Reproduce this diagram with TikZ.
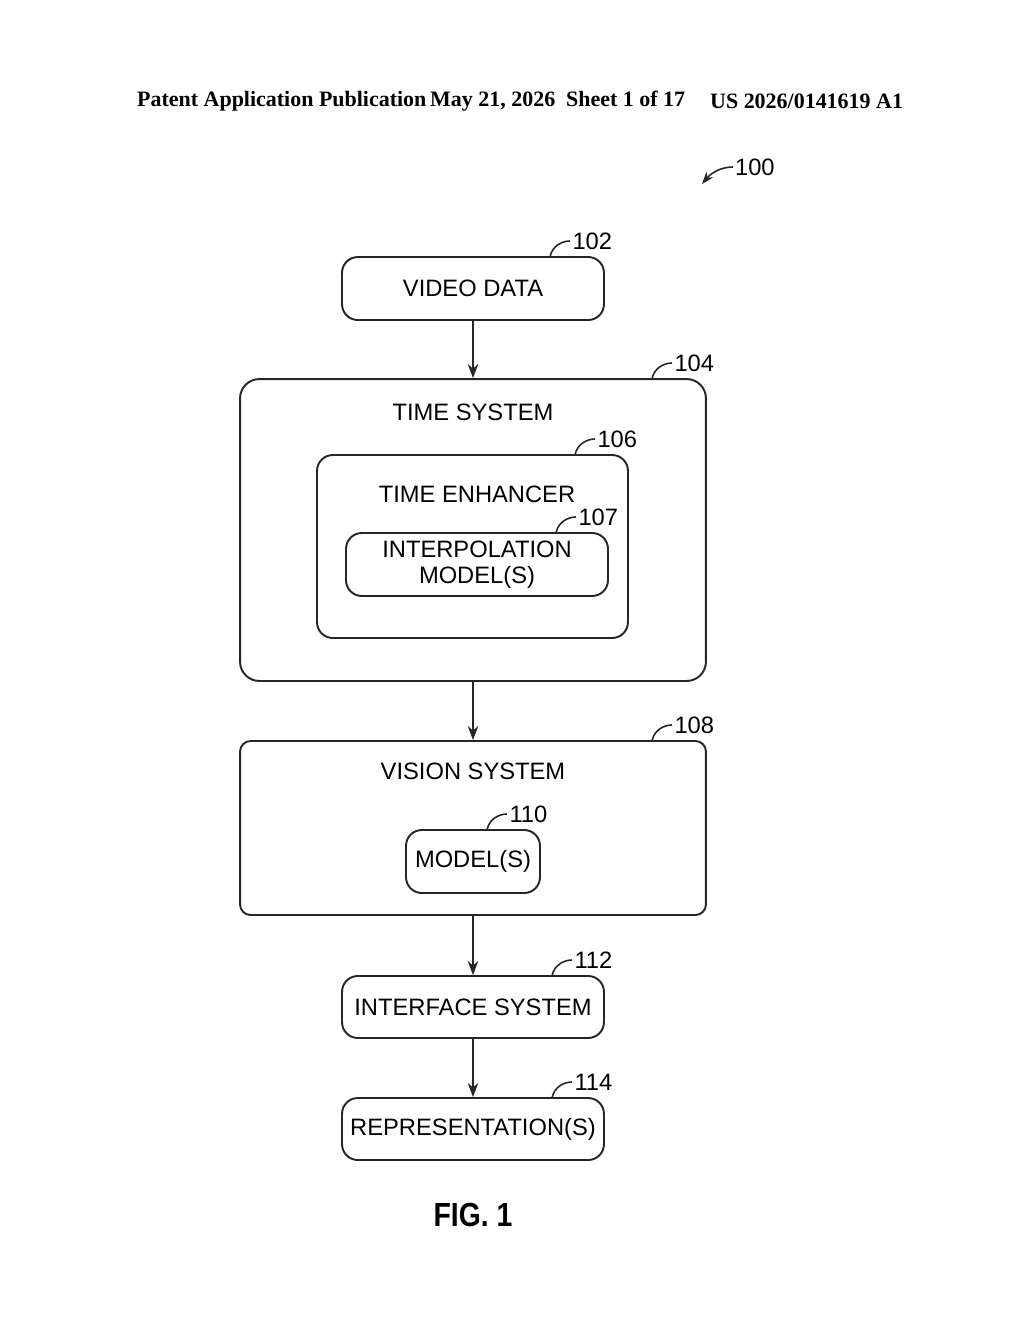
\documentclass[tikz,border=0pt]{standalone}
\usepackage{fontspec}
\setmainfont{Liberation Sans}
\newfontfamily\hdrfont{Liberation Serif}
\usetikzlibrary{arrows.meta}
\tikzset{
    blk/.style={
        rectangle,
        draw=black!85,
        line width=1.1pt,
        rounded corners=9pt,
        font=\fontsize{13.5}{15}\selectfont,
        align=center,
        inner sep=0pt
    },
    flow/.style={draw=black!85, line width=1pt, -{Stealth[length=8pt,width=6pt]}},
    reftick/.style={draw=black!85, line width=0.9pt},
    reftext/.style={font=\fontsize{13.5}{15}\selectfont, anchor=west, inner sep=1pt}
}
\newcommand{\refmark}[3]{% start point, label
    \draw[reftick] (#1,#2) .. controls ++(2,-11) and ++(-8,0) .. ++(20,-16)
        node[reftext] {#3};
}
\begin{document}
\begin{tikzpicture}[x=0.02cm,y=-0.02cm]
\useasboundingbox (0,0) rectangle (1024,1320);

% header
\node[font=\hdrfont\bfseries\fontsize{12.5}{14}\selectfont, anchor=west] (hdr1) at (131,101) {Patent Application Publication};
\node[font=\hdrfont\bfseries\fontsize{12.5}{14}\selectfont, anchor=west] (hdr2) at (424,101) {May 21, 2026\ \ Sheet 1 of 17};
\node[font=\hdrfont\bfseries\fontsize{12.5}{14}\selectfont, anchor=west] (hdr3) at (704,101) {US 2026/0141619 A1};

% figure number
\node[reftext] (n100) at (733,167) {100};
\coordinate (a100) at (702,184);
\draw[flow, line width=0.9pt, -{Stealth[length=7pt,width=5pt]}] (n100.west) .. controls (722,167) and (712,172) .. (a100);

% blocks
\node[blk, minimum width=5.24cm, minimum height=1.26cm] (video) at (473,288.5) {VIDEO DATA};
\node[blk, minimum width=9.32cm, minimum height=6.04cm, rounded corners=11pt] (timesys) at (473,530) {};
\node[blk, draw=none, anchor=center] (timelbl) at (473,412) {TIME SYSTEM};
\node[blk, minimum width=6.22cm, minimum height=3.66cm] (enh) at (472.5,546.5) {};
\node[blk, draw=none] (enhlbl) at (477,494) {TIME ENHANCER};
\node[blk, minimum width=5.24cm, minimum height=1.26cm] (interp) at (477,564.5) {INTERPOLATION\\MODEL(S)};
\node[blk, minimum width=9.32cm, minimum height=3.48cm, rounded corners=6pt] (vision) at (473,828) {};
\node[blk, draw=none] (vislbl) at (473,771) {VISION SYSTEM};
\node[blk, minimum width=2.68cm, minimum height=1.26cm] (models) at (473,861.5) {MODEL(S)};
\node[blk, minimum width=5.24cm, minimum height=1.24cm] (iface) at (473,1007) {INTERFACE SYSTEM};
\node[blk, minimum width=5.24cm, minimum height=1.24cm] (repr) at (473,1129) {REPRESENTATION(S)};

% connectors
\draw[flow] (video) -- (timesys);
\draw[flow] (timesys) -- (vision);
\draw[flow] (vision) -- (iface);
\draw[flow] (iface) -- (repr);

% reference numerals
\refmark{550}{257}{102}
\refmark{652}{379}{104}
\refmark{575}{455}{106}
\refmark{556}{533}{107}
\refmark{652}{741}{108}
\refmark{487}{830}{110}
\refmark{552}{976}{112}
\refmark{552}{1098}{114}

\node[font=\bfseries\fontsize{19}{21}\selectfont, xscale=0.85] (fig) at (473,1215) {FIG. 1};
\end{tikzpicture}
\end{document}
